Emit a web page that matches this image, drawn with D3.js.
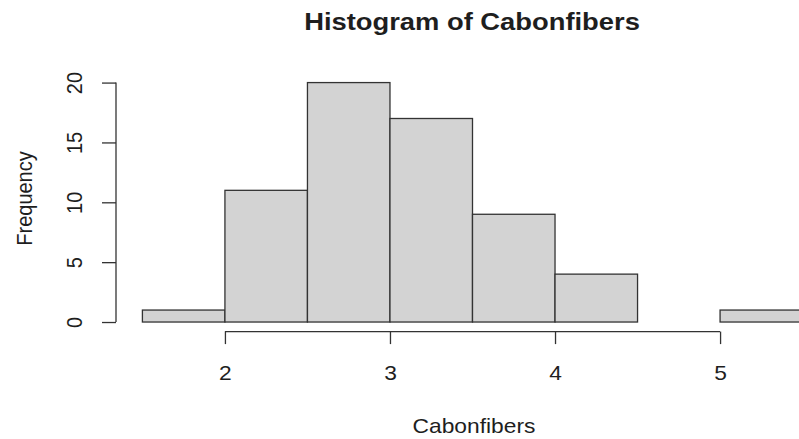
<!DOCTYPE html>
<html>
<head>
<meta charset="utf-8">
<script src="https://cdn.jsdelivr.net/npm/d3@7"></script>
<style>
html,body{margin:0;padding:0;background:#fff;overflow:hidden;}
svg{display:block;}
text{font-family:"Liberation Sans",Arial,sans-serif;fill:#1e1e1e;}
</style>
</head>
<body>
<svg id="chart" width="799" height="439"></svg>
<script>
const binStarts = [1.5, 2.0, 2.5, 3.0, 3.5, 4.0, 4.5, 5.0];
const binWidth = 0.5;
const counts = [1, 11, 20, 17, 9, 4, 0, 1];
const xTicks = [2, 3, 4, 5];
const yTicks = [0, 5, 10, 15, 20];
const title = "Histogram of Cabonfibers";
const xLabel = "Cabonfibers";
const yLabel = "Frequency";

const W = 799, H = 439;
const sx = 1.14; // horizontal stretch of the reference image
const svg = d3.select("#chart");

const x = d3.scaleLinear().domain([1.34, 5.66]).range([116, 829]);
const y = d3.scaleLinear().domain([-0.8, 20.8]).range([331.6, 73]);

const stroke = "#333";

// bars
svg.append("g").selectAll("rect")
  .data(binStarts.map((s, i) => ({s, c: counts[i]})))
  .join("rect")
  .attr("x", d => x(d.s))
  .attr("width", d => x(d.s + binWidth) - x(d.s))
  .attr("y", d => y(d.c))
  .attr("height", d => y(0) - y(d.c))
  .attr("fill", "#d3d3d3")
  .attr("stroke", stroke)
  .attr("stroke-width", 1.3);

// x axis
const xAxis = svg.append("g").attr("transform", `translate(0,${y(-0.8)})`)
  .call(d3.axisBottom(x).tickValues(xTicks).tickSize(12.5).tickSizeOuter(0).tickFormat(d3.format("d")));
xAxis.select(".domain").attr("d", `M${x(xTicks[0])},0H${x(xTicks[xTicks.length-1])}`);
xAxis.selectAll("line, path").attr("stroke", stroke).attr("stroke-width", 1.3);
xAxis.selectAll(".tick text").remove();
xAxis.selectAll(".tick").append("g")
  .attr("transform", `translate(0,${380 - y(-0.8)}) scale(${sx},1)`)
  .append("text")
  .attr("text-anchor", "middle")
  .style("font-size", "20px")
  .text(d => d);

// y axis
const yAxis = svg.append("g").attr("transform", `translate(${x(1.34)},0)`)
  .call(d3.axisLeft(y).tickValues(yTicks).tickSize(14).tickSizeOuter(0));
yAxis.select(".domain").attr("d", `M0,${y(yTicks[0])}V${y(yTicks[yTicks.length-1])}`);
yAxis.selectAll("line, path").attr("stroke", stroke).attr("stroke-width", 1.3);
yAxis.selectAll(".tick text").remove();
yAxis.selectAll(".tick").append("g")
  .attr("transform", `translate(${82 - x(1.34)},0) scale(${sx},1) rotate(-90)`)
  .append("text")
  .attr("text-anchor", "middle")
  .style("font-size", "20px")
  .text(d => d);

// title
svg.append("g").attr("transform", `translate(472,30) scale(${sx},1)`)
  .append("text").attr("text-anchor", "middle")
  .style("font-size", "24px").style("font-weight", "bold")
  .text(title);

// x label
svg.append("g").attr("transform", `translate(474,433) scale(${sx},1)`)
  .append("text").attr("text-anchor", "middle")
  .style("font-size", "20px")
  .text(xLabel);

// y label
svg.append("g").attr("transform", `translate(31.5,${(150+247)/2}) scale(${sx},1) rotate(-90)`)
  .append("text").attr("text-anchor", "middle")
  .style("font-size", "20px")
  .text(yLabel);
</script>
</body>
</html>
